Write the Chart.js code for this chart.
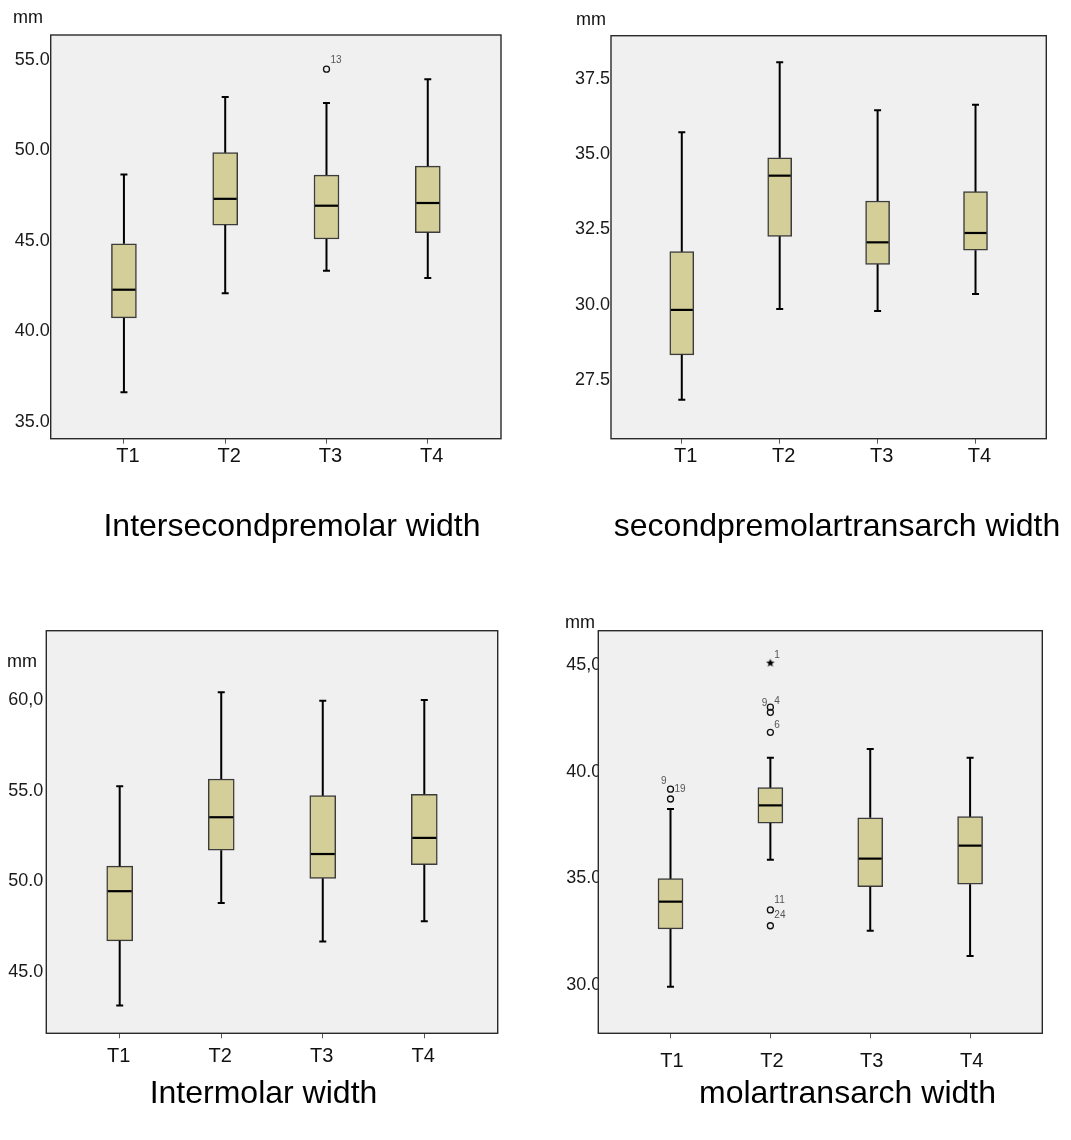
<!DOCTYPE html>
<html>
<head>
<meta charset="utf-8">
<script src="https://cdn.jsdelivr.net/npm/chart.js@4.4.1/dist/chart.umd.min.js"></script>
<style>
  html, body { margin: 0; padding: 0; background: #fff; overflow: hidden; }
  body { position: relative; width: 1071px; height: 1140px; }
  canvas { position: absolute; }
</style>
</head>
<body>
<canvas id="isp"></canvas>
<canvas id="sptw"></canvas>
<canvas id="imw"></canvas>
<canvas id="mtw"></canvas>
<script>
// ---- data -------------------------------------------------------------
const categories = ['T1', 'T2', 'T3', 'T4'];

// Intersecondpremolar width (mm)
const ispMin    = [36.36, 41.83, 43.08, 42.68];
const ispQ1     = [40.47, 45.60, 44.83, 45.18];
const ispMedian = [42.03, 47.05, 46.67, 46.82];
const ispQ3     = [44.57, 49.60, 48.36, 48.86];
const ispMax    = [48.40, 52.67, 52.35, 53.66];
const ispOutlierGroup = ['T3'];
const ispOutlierValue = [54.21];
const ispOutlierCase  = ['13'];
const ispOutlierKind  = ['outlier'];
const ispTicks      = [35, 40, 45, 50, 55];
const ispTickLabels = ['35.0', '40.0', '45.0', '50.0', '55.0'];

// second premolar transarch width (mm)
const sptwMin    = [26.59, 29.60, 29.53, 30.10];
const sptwQ1     = [28.08, 32.01, 31.08, 31.55];
const sptwMedian = [29.57, 34.02, 31.81, 32.12];
const sptwQ3     = [31.50, 34.61, 33.18, 33.49];
const sptwMax    = [35.46, 37.78, 36.19, 36.37];
const sptwOutlierGroup = [];
const sptwOutlierValue = [];
const sptwOutlierCase  = [];
const sptwOutlierKind  = [];
const sptwTicks      = [27.5, 30, 32.5, 35, 37.5];
const sptwTickLabels = ['27.5', '30.0', '32.5', '35.0', '37.5'];

// Intermolar width (mm)
const imwMin    = [42.90, 48.56, 46.43, 47.55];
const imwQ1     = [46.47, 51.47, 49.92, 50.67];
const imwMedian = [49.21, 53.29, 51.26, 52.15];
const imwQ3     = [50.59, 55.40, 54.48, 54.56];
const imwMax    = [55.00, 60.18, 59.72, 59.76];
const imwOutlierGroup = [];
const imwOutlierValue = [];
const imwOutlierCase  = [];
const imwOutlierKind  = [];
const imwTicks      = [45, 50, 55, 60];
const imwTickLabels = ['45.0', '50.0', '55.0', '60,0'];

// molar transarch width (mm)
const mtwMin    = [29.64, 35.60, 32.27, 31.08];
const mtwQ1     = [32.35, 37.32, 34.33, 34.45];
const mtwMedian = [33.63, 38.15, 35.65, 36.26];
const mtwQ3     = [34.71, 38.98, 37.57, 37.62];
const mtwMax    = [37.98, 40.38, 40.80, 40.39];
const mtwOutlierGroup = ['T1', 'T1', 'T2', 'T2', 'T2', 'T2', 'T2', 'T2'];
const mtwOutlierValue = [38.91, 38.45, 44.85, 42.76, 42.52, 41.58, 33.24, 32.50];
const mtwOutlierCase  = ['19', '9', '1', '9', '4', '6', '11', '24'];
const mtwOutlierKind  = ['outlier', 'outlier', 'extreme', 'outlier', 'outlier', 'outlier', 'outlier', 'outlier'];
const mtwTicks      = [30, 35, 40, 45];
const mtwTickLabels = ['30.0', '35.0', '40.0', '45,0'];

// ---- styling ----------------------------------------------------------
const FONT = "'Liberation Sans', Arial, Helvetica, sans-serif";
const BOX_FILL = 'rgb(212,206,153)';
const BOX_EDGE = '#3c3c3c';
const PLOT_BG = '#f0f0f0';

// small filled star used for extreme values
const starMarker = (() => {
  const c = document.createElement('canvas');
  c.width = 10; c.height = 10;
  const g = c.getContext('2d');
  g.fillStyle = '#000';
  g.beginPath();
  for (let k = 0; k < 10; k++) {
    const r = k % 2 ? 1.9 : 4.4;
    const a = -Math.PI / 2 + k * Math.PI / 5;
    const px = 5 + r * Math.cos(a), py = 5.4 + r * Math.sin(a);
    if (k) g.lineTo(px, py); else g.moveTo(px, py);
  }
  g.closePath();
  g.fill();
  return c;
})();

// plot background + frame, "mm" unit label
const frame = {
  id: 'frame',
  beforeDraw(chart) {
    const a = chart.chartArea, ctx = chart.ctx;
    ctx.save();
    ctx.fillStyle = PLOT_BG;
    ctx.fillRect(a.left, a.top, a.right - a.left, a.bottom - a.top);
    ctx.restore();
  },
  afterDraw(chart, args, opts) {
    const a = chart.chartArea, ctx = chart.ctx;
    ctx.save();
    ctx.strokeStyle = '#2a2a2a';
    ctx.lineWidth = 1.4;
    ctx.strokeRect(a.left, a.top, a.right - a.left, a.bottom - a.top);
    ctx.fillStyle = '#111';
    ctx.font = '18px ' + FONT;
    ctx.textAlign = 'left';
    ctx.textBaseline = 'middle';
    ctx.fillText(opts.unit, opts.unitX, opts.unitY);
    ctx.restore();
  }
};

// whiskers, caps, medians and case labels of the outliers
const whiskers = {
  id: 'whiskers',
  afterDatasetsDraw(chart, args, opts) {
    const ctx = chart.ctx, xs = chart.scales.x, ys = chart.scales.y;
    const bars = chart.getDatasetMeta(0).data;
    ctx.save();
    ctx.strokeStyle = '#000';
    ctx.lineCap = 'butt';
    opts.min.forEach((lo, i) => {
      const x = xs.getPixelForValue(i + 1);
      const yLo = ys.getPixelForValue(lo), yHi = ys.getPixelForValue(opts.max[i]);
      const yQ1 = ys.getPixelForValue(opts.q1[i]), yQ3 = ys.getPixelForValue(opts.q3[i]);
      ctx.lineWidth = 2;
      ctx.beginPath();
      ctx.moveTo(x, yHi); ctx.lineTo(x, yQ3);
      ctx.moveTo(x, yQ1); ctx.lineTo(x, yLo);
      ctx.moveTo(x - opts.cap / 2, yHi); ctx.lineTo(x + opts.cap / 2, yHi);
      ctx.moveTo(x - opts.cap / 2, yLo); ctx.lineTo(x + opts.cap / 2, yLo);
      ctx.stroke();
      const b = bars[i], half = b.width / 2;
      const yMed = ys.getPixelForValue(opts.median[i]);
      ctx.lineWidth = 2.2;
      ctx.beginPath();
      ctx.moveTo(b.x - half + 1, yMed); ctx.lineTo(b.x + half - 1, yMed);
      ctx.stroke();
    });
    ctx.fillStyle = '#555';
    ctx.font = '10px ' + FONT;
    ctx.textBaseline = 'middle';
    const pts = chart.getDatasetMeta(1).data;
    opts.cases.forEach((txt, i) => {
      const p = pts[i], place = opts.casePlace[i];
      ctx.textAlign = place[2];
      ctx.fillText(txt, p.x + place[0], p.y + place[1]);
    });
    ctx.restore();
  }
};

function buildPanel(p) {
  const lh = p.titleSize * 1.2;
  const xH = 40;
  const titlePadTop = p.titleY - (p.area.bottom + xH) - lh / 2;
  const height = Math.ceil((p.area.bottom - p.top) + xH + titlePadTop + lh + 8);
  const titlePadBottom = height - ((p.area.bottom - p.top) + xH + titlePadTop + lh);

  const cv = document.getElementById(p.id);
  cv.width = p.width;
  cv.height = height;
  cv.style.left = p.left + 'px';
  cv.style.top = p.top + 'px';
  cv.style.width = p.width + 'px';
  cv.style.height = height + 'px';

  const boxes = categories.map((c, i) => ({ x: i + 1, y: [p.q1[i], p.q3[i]] }));
  const outliers = p.outGroup.map((g, i) => ({ x: categories.indexOf(g) + 1, y: p.outValue[i] }));

  new Chart(cv, {
    type: 'bar',
    data: {
      datasets: [
        {
          type: 'bar',
          data: boxes,
          backgroundColor: BOX_FILL,
          borderColor: BOX_EDGE,
          borderWidth: 1.5,
          borderSkipped: false,
          barThickness: p.boxWidth
        },
        {
          type: 'scatter',
          data: outliers,
          pointStyle: p.outKind.map(k => k === 'extreme' ? starMarker : 'circle'),
          pointRadius: 3,
          pointBorderWidth: 1.3,
          pointBorderColor: '#111',
          pointBackgroundColor: 'rgba(0,0,0,0)'
        }
      ]
    },
    options: {
      responsive: false,
      animation: false,
      events: [],
      layout: { padding: { top: p.area.top - p.top, left: 0, right: 0, bottom: 0 } },
      scales: {
        x: {
          type: 'linear',
          offset: false,
          min: 1 - 0.723,
          max: categories.length + 0.723,
          afterBuildTicks: ax => { ax.ticks = categories.map((c, i) => ({ value: i + 1 })); },
          afterFit: ax => { ax.height = xH; },
          grid: { display: true, offset: false, drawOnChartArea: false, drawTicks: true, tickLength: 5, color: '#555', lineWidth: 1 },
          border: { display: false },
          ticks: {
            autoSkip: false, maxRotation: 0,
            padding: p.xPad, labelOffset: p.xShift,
            color: '#111',
            font: { family: FONT, size: 20 },
            callback: (v, i) => categories[i]
          }
        },
        y: {
          type: 'linear',
          position: 'left',
          min: p.yMin,
          max: p.yMax,
          afterBuildTicks: ax => { ax.ticks = p.ticks.map(v => ({ value: v })); },
          afterFit: ax => { ax.width = p.area.left - p.left; },
          grid: { display: false, drawTicks: false, tickLength: 0 },
          border: { display: false },
          ticks: {
            autoSkip: false,
            padding: p.yPad, labelOffset: p.yShift,
            color: '#1a1a1a',
            font: { family: FONT, size: 18 },
            callback: (v, i) => p.tickLabels[i]
          }
        },
        margin: {
          type: 'linear',
          position: 'right',
          grid: { display: false, drawTicks: false, tickLength: 0 },
          border: { display: false },
          ticks: { display: false },
          afterFit: ax => { ax.width = p.left + p.width - p.area.right; }
        }
      },
      plugins: {
        legend: { display: false },
        tooltip: { enabled: false },
        title: {
          display: true,
          position: 'bottom',
          text: p.title,
          color: '#000',
          font: { family: FONT, size: p.titleSize, weight: 'normal' },
          padding: { top: titlePadTop, bottom: titlePadBottom }
        },
        frame: { unit: 'mm', unitX: p.unitX - p.left, unitY: p.unitY - p.top },
        whiskers: {
          min: p.min, q1: p.q1, median: p.median, q3: p.q3, max: p.max,
          cap: 7, cases: p.outCase, casePlace: p.casePlace
        }
      }
    },
    plugins: [frame, whiskers]
  });
}

buildPanel({
  id: 'isp', left: 0, top: 0, width: 584,
  area: { left: 50.7, top: 35, right: 501, bottom: 438.7 },
  title: 'Intersecondpremolar width', titleSize: 32, titleY: 527,
  unitX: 13, unitY: 18,
  yMin: 33.8, yMax: 56.1, ticks: ispTicks, tickLabels: ispTickLabels, yPad: 1, yShift: 5,
  xPad: 1, xShift: 4, boxWidth: 25,
  min: ispMin, q1: ispQ1, median: ispMedian, q3: ispQ3, max: ispMax,
  outGroup: ispOutlierGroup, outValue: ispOutlierValue, outCase: ispOutlierCase, outKind: ispOutlierKind,
  casePlace: [[4, -9, 'left']]
});

buildPanel({
  id: 'sptw', left: 560, top: 0, width: 554,
  area: { left: 611, top: 35.7, right: 1046.3, bottom: 438.7 },
  title: 'secondpremolartransarch width', titleSize: 32, titleY: 527,
  unitX: 576, unitY: 20,
  yMin: 25.3, yMax: 38.66, ticks: sptwTicks, tickLabels: sptwTickLabels, yPad: 1, yShift: 8,
  xPad: 1, xShift: 4, boxWidth: 24,
  min: sptwMin, q1: sptwQ1, median: sptwMedian, q3: sptwQ3, max: sptwMax,
  outGroup: sptwOutlierGroup, outValue: sptwOutlierValue, outCase: sptwOutlierCase, outKind: sptwOutlierKind,
  casePlace: []
});

buildPanel({
  id: 'imw', left: 0, top: 590, width: 527,
  area: { left: 46.3, top: 630.7, right: 497.7, bottom: 1033.3 },
  title: 'Intermolar width', titleSize: 32, titleY: 1094,
  unitX: 7, unitY: 662,
  yMin: 41.37, yMax: 63.58, ticks: imwTicks, tickLabels: imwTickLabels, yPad: 3, yShift: 4.5,
  xPad: 6.4, xShift: -1, boxWidth: 26,
  min: imwMin, q1: imwQ1, median: imwMedian, q3: imwQ3, max: imwMax,
  outGroup: imwOutlierGroup, outValue: imwOutlierValue, outCase: imwOutlierCase, outKind: imwOutlierKind,
  casePlace: []
});

buildPanel({
  id: 'mtw', left: 560, top: 590, width: 575,
  area: { left: 598.3, top: 630.7, right: 1042.3, bottom: 1033.3 },
  title: 'molartransarch width', titleSize: 32, titleY: 1094,
  unitX: 565, unitY: 623,
  yMin: 27.45, yMax: 46.35, ticks: mtwTicks, tickLabels: mtwTickLabels, yPad: -3, yShift: 6,
  xPad: 11.4, xShift: 1.5, boxWidth: 25,
  min: mtwMin, q1: mtwQ1, median: mtwMedian, q3: mtwQ3, max: mtwMax,
  outGroup: mtwOutlierGroup, outValue: mtwOutlierValue, outCase: mtwOutlierCase, outKind: mtwOutlierKind,
  casePlace: [[4, 0, 'left'], [-4, -18, 'right'], [4, -7, 'left'], [-3, -4, 'right'],
               [4, -11, 'left'], [4, -7, 'left'], [4, -10, 'left'], [4, -10, 'left']]
});
</script>
</body>
</html>
